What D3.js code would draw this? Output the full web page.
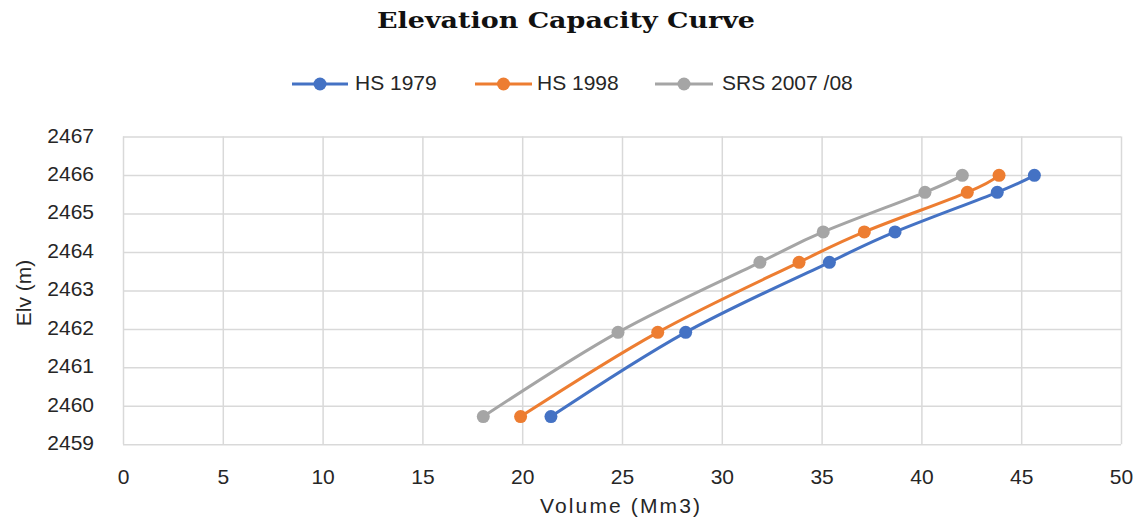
<!DOCTYPE html>
<html>
<head>
<meta charset="utf-8">
<script src="https://cdn.jsdelivr.net/npm/d3@7"></script>
<style>
  html, body { margin: 0; padding: 0; background: #fff; }
  svg { display: block; }
</style>
</head>
<body>
<svg id="chart" width="1137" height="527"></svg>
<script>
// Elevation (m) shared by all three surveys
const elevations = [2459.72, 2461.91, 2463.73, 2464.52, 2465.55, 2465.99];
// Storage volume (Mm3) per survey
const hs1979 = [21.44, 28.19, 35.39, 38.68, 43.80, 45.66];
const hs1998 = [19.92, 26.79, 33.87, 37.14, 42.30, 43.89];
const srs2007 = [18.05, 24.80, 31.91, 35.08, 40.18, 42.05];
const seriesNames = ["HS 1979", "HS 1998", "SRS 2007 /08"];
const xTicks = [0, 5, 10, 15, 20, 25, 30, 35, 40, 45, 50];
const yTicks = [2459, 2460, 2461, 2462, 2463, 2464, 2465, 2466, 2467];

const colors = ["#4472C4", "#ED7D31", "#A5A5A5"];
const seriesValues = [hs1979, hs1998, srs2007];
const series = seriesNames.map((name, i) => ({
  name,
  color: colors[i],
  points: seriesValues[i].map((v, j) => ({ x: v, y: elevations[j] }))
}));

const svg = d3.select("#chart");
const plotLeft = 123, plotRight = 1121, plotTop = 136.5, plotBottom = 444.3;
const textColor = "#262626";
const font = "'Liberation Sans', Arial, sans-serif";

const x = d3.scaleLinear().domain([0, 50]).range([plotLeft, plotRight]);
const y = d3.scaleLinear().domain([2459, 2467]).range([plotBottom, plotTop]);

// Title
svg.append("text")
  .attr("x", 566).attr("y", 28)
  .attr("text-anchor", "middle")
  .attr("font-family", "'DejaVu Serif', serif")
  .attr("font-weight", "bold")
  .attr("font-size", 23)
  .attr("textLength", 378)
  .attr("lengthAdjust", "spacingAndGlyphs")
  .attr("fill", "#111")
  .text("Elevation Capacity Curve");

// Gridlines + tick labels, x
const gx = svg.append("g")
  .attr("transform", `translate(0,${plotBottom})`)
  .call(d3.axisBottom(x).tickValues(xTicks).tickSize(-(plotBottom - plotTop)).tickFormat(d3.format("d")));
gx.select(".domain").remove();
gx.selectAll(".tick line").attr("stroke", "#d9d9d9").attr("stroke-width", 1.5);
gx.selectAll(".tick text")
  .attr("y", 40).attr("dy", null)
  .attr("font-family", font).attr("font-size", 21).attr("fill", textColor);

// Gridlines + tick labels, y
const gy = svg.append("g")
  .attr("transform", `translate(${plotLeft},0)`)
  .call(d3.axisLeft(y).tickValues(yTicks).tickSize(-(plotRight - plotLeft)).tickFormat(d3.format("d")));
gy.select(".domain").remove();
gy.selectAll(".tick line").attr("stroke", "#d9d9d9").attr("stroke-width", 1.5);
gy.selectAll(".tick text")
  .attr("x", -29).attr("dy", null).attr("y", 5.5)
  .attr("font-family", font).attr("font-size", 21).attr("fill", textColor);

// Axis titles
svg.append("text")
  .attr("x", 620).attr("y", 513)
  .attr("text-anchor", "middle")
  .attr("font-family", font).attr("font-size", 21).attr("fill", textColor)
  .attr("textLength", 160)
  .attr("lengthAdjust", "spacing")
  .text("Volume (Mm3)");

svg.append("text")
  .attr("transform", "translate(31,293) rotate(-90)")
  .attr("text-anchor", "middle")
  .attr("font-family", font).attr("font-size", 21).attr("fill", textColor)
  .text("Elv (m)");

// Smoothed series lines with markers
const line = d3.line()
  .x(d => x(d.x)).y(d => y(d.y))
  .curve(d3.curveCardinal.tension(0));

const gs = svg.append("g");
series.forEach(s => {
  const g = gs.append("g");
  g.append("path")
    .datum(s.points)
    .attr("d", line)
    .attr("fill", "none")
    .attr("stroke", s.color)
    .attr("stroke-width", 3)
    .attr("stroke-linecap", "round");
  g.selectAll("circle")
    .data(s.points)
    .join("circle")
    .attr("cx", d => x(d.x)).attr("cy", d => y(d.y))
    .attr("r", 6.5)
    .attr("fill", s.color);
});

// Legend
const legendY = 84;
const legendItems = [
  { x0: 292, x1: 348, text: 355 },
  { x0: 475, x1: 532, text: 537 },
  { x0: 655, x1: 713, text: 722 }
];
const lg = svg.append("g");
series.forEach((s, i) => {
  const p = legendItems[i];
  lg.append("line")
    .attr("x1", p.x0).attr("x2", p.x1)
    .attr("y1", legendY).attr("y2", legendY)
    .attr("stroke", s.color).attr("stroke-width", 3);
  lg.append("circle")
    .attr("cx", (p.x0 + p.x1) / 2).attr("cy", legendY)
    .attr("r", 6.5).attr("fill", s.color);
  lg.append("text")
    .attr("x", p.text).attr("y", legendY + 5.5)
    .attr("font-family", font).attr("font-size", 21).attr("fill", textColor)
    .text(s.name);
});
</script>
</body>
</html>
